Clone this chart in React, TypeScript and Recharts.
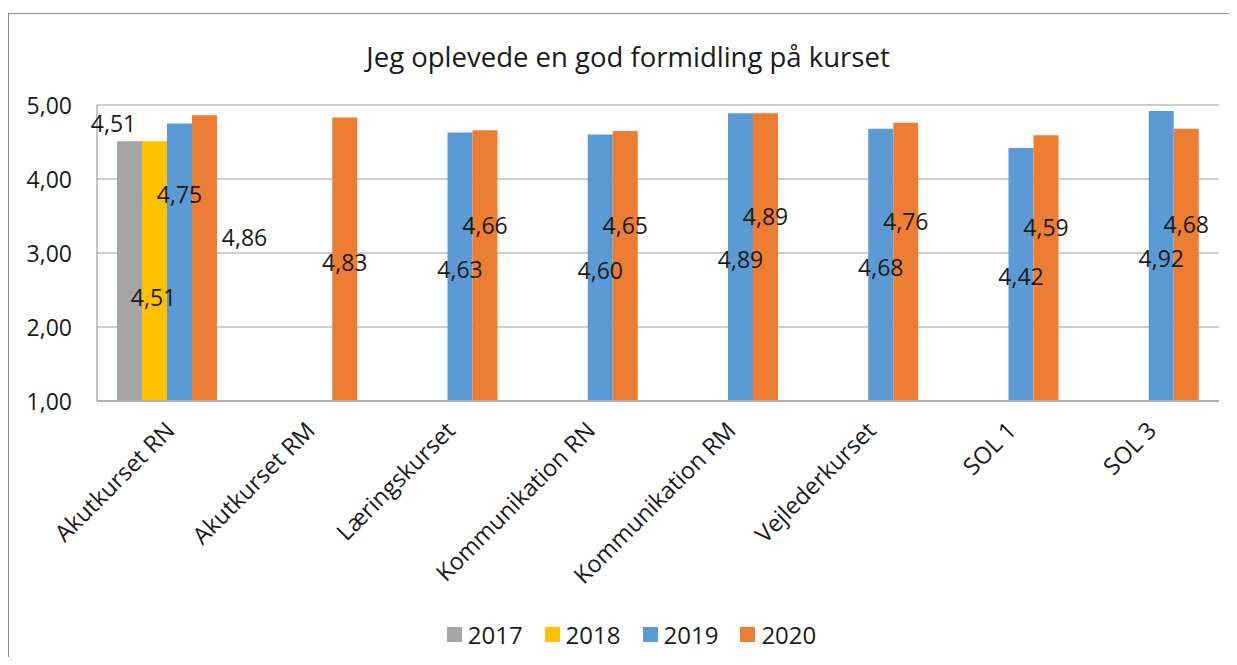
import React from 'react';
import { BarChart, Bar, XAxis, YAxis, CartesianGrid, Legend } from 'recharts';

const title = 'Jeg oplevede en god formidling på kurset';
const categories = [
  'Akutkurset RN',
  'Akutkurset RM',
  'Læringskurset',
  'Kommunikation RN',
  'Kommunikation RM',
  'Vejlederkurset',
  'SOL 1',
  'SOL 3',
];
const years = ['2017', '2018', '2019', '2020'];
const values2017: (number | null)[] = [4.51, null, null, null, null, null, null, null];
const values2018: (number | null)[] = [4.51, null, null, null, null, null, null, null];
const values2019: (number | null)[] = [4.75, null, 4.63, 4.6, 4.89, 4.68, 4.42, 4.92];
const values2020: (number | null)[] = [4.86, 4.83, 4.66, 4.65, 4.89, 4.76, 4.59, 4.68];
const yTicks = [1, 2, 3, 4, 5];

const seriesValues: Record<string, (number | null)[]> = {
  '2017': values2017,
  '2018': values2018,
  '2019': values2019,
  '2020': values2020,
};

const COLORS: Record<string, string> = {
  '2017': '#A5A5A5',
  '2018': '#FFC000',
  '2019': '#5B9BD5',
  '2020': '#ED7D31',
};

// label nudges (px) relative to bar centre, mimicking manually moved labels
const DEFAULT_NUDGE: Record<string, [number, number]> = {
  '2017': [0, 0],
  '2018': [0, 0],
  '2019': [0, 2],
  '2020': [0, -41],
};
const LABEL_NUDGE: Record<string, [number, number]> = {
  '2017|Akutkurset RN': [-16, -148],
  '2018|Akutkurset RN': [-1, 26],
  '2019|Akutkurset RN': [0, -68],
  '2020|Akutkurset RN': [40, -21],
  '2020|Akutkurset RM': [0, 3],
};

const FONT = '"Open Sans", "DejaVu Sans", sans-serif';
const TEXT = '#1a1a1a';

const data = categories.map((c, i) => {
  const row: Record<string, any> = { name: c };
  years.forEach((y) => {
    row[y] = seriesValues[y][i];
  });
  return row;
});

const fmt = (v: number) => v.toFixed(2).replace('.', ',');

const makeLabel = (series: string) => (props: any) => {
  const { x, y, width, height, value, index } = props;
  if (value == null || !isFinite(Number(value))) return null;
  const key = series + '|' + categories[index];
  const [dx, dy] = LABEL_NUDGE[key] ?? DEFAULT_NUDGE[series];
  return (
    <text
      x={Number(x) + Number(width) / 2 + dx}
      y={Number(y) + Number(height) / 2 + dy}
      textAnchor="middle"
      dominantBaseline="central"
      fontFamily={FONT}
      fontSize={23}
      fill={TEXT}
    >
      {fmt(Number(value))}
    </text>
  );
};

const CatTick = (props: any) => {
  const { x, y, payload } = props;
  const ax = x + 9;
  const ay = y + 31;
  return (
    <text
      x={ax}
      y={ay}
      transform={`rotate(-45, ${ax}, ${ay})`}
      textAnchor="end"
      fontFamily={FONT}
      fontSize={23.5}
      fill={TEXT}
    >
      {payload.value}
    </text>
  );
};

const ValTick = (props: any) => {
  const { x, y, payload } = props;
  return (
    <text
      x={x - 25}
      y={y}
      textAnchor="end"
      dominantBaseline="central"
      fontFamily={FONT}
      fontSize={23}
      fill={TEXT}
    >
      {fmt(Number(payload.value))}
    </text>
  );
};

const LegendContent = () => (
  <div
    style={{
      display: 'flex',
      justifyContent: 'center',
      alignItems: 'center',
      height: 30,
      paddingLeft: 40,
      fontFamily: FONT,
      fontSize: 24,
      color: TEXT,
    }}
  >
    {years.map((y) => (
      <div key={y} style={{ display: 'flex', alignItems: 'center', marginRight: 22 }}>
        <span style={{ display: 'inline-block', width: 15, height: 15, background: COLORS[y], marginRight: 6 }} />
        <span>{y}</span>
      </div>
    ))}
  </div>
);

export default function App() {
  return (
    <div style={{ position: 'relative', width: 1229, height: 649, overflow: 'hidden', background: '#fff' }}>
      <div
        style={{
          position: 'absolute',
          left: 0,
          top: 5,
          width: 1400,
          height: 800,
          borderTop: '1px solid #8c8c8c',
          borderLeft: '1px solid #8c8c8c',
          boxSizing: 'border-box',
        }}
      />
      <div
        style={{
          position: 'absolute',
          left: 0,
          width: 1240,
          top: 31,
          textAlign: 'center',
          fontFamily: FONT,
          fontSize: 27.5,
          color: TEXT,
          lineHeight: '36px',
        }}
      >
        {title}
      </div>
      <div style={{ position: 'absolute', left: 0, top: 0 }}>
        <BarChart
          width={1229}
          height={649}
          data={data}
          margin={{ top: 97, right: 18, bottom: 46, left: 0 }}
          barCategoryGap={20}
          barGap={0}
        >
          <CartesianGrid vertical={false} stroke="#bdbdbd" strokeWidth={1.5} />
          <XAxis
            dataKey="name"
            interval={0}
            tickLine={false}
            tickSize={0}
            tickMargin={0}
            height={180}
            axisLine={{ stroke: '#b0b0b0', strokeWidth: 2 }}
            tick={<CatTick />}
          />
          <YAxis
            domain={[1, 5]}
            ticks={yTicks}
            width={89}
            tickLine={false}
            tickSize={0}
            tickMargin={0}
            axisLine={{ stroke: '#b0b0b0', strokeWidth: 1.5 }}
            tick={<ValTick />}
            allowDataOverflow
          />
          <Legend
            verticalAlign="bottom"
            content={<LegendContent />}
            wrapperStyle={{ top: 611, left: 0, width: 1229, height: 30, bottom: 'auto' }}
          />
          {years.map((y) => (
            <Bar
              key={y}
              dataKey={y}
              name={y}
              fill={COLORS[y]}
              isAnimationActive={false}
              label={makeLabel(y)}
            />
          ))}
        </BarChart>
      </div>
    </div>
  );
}
